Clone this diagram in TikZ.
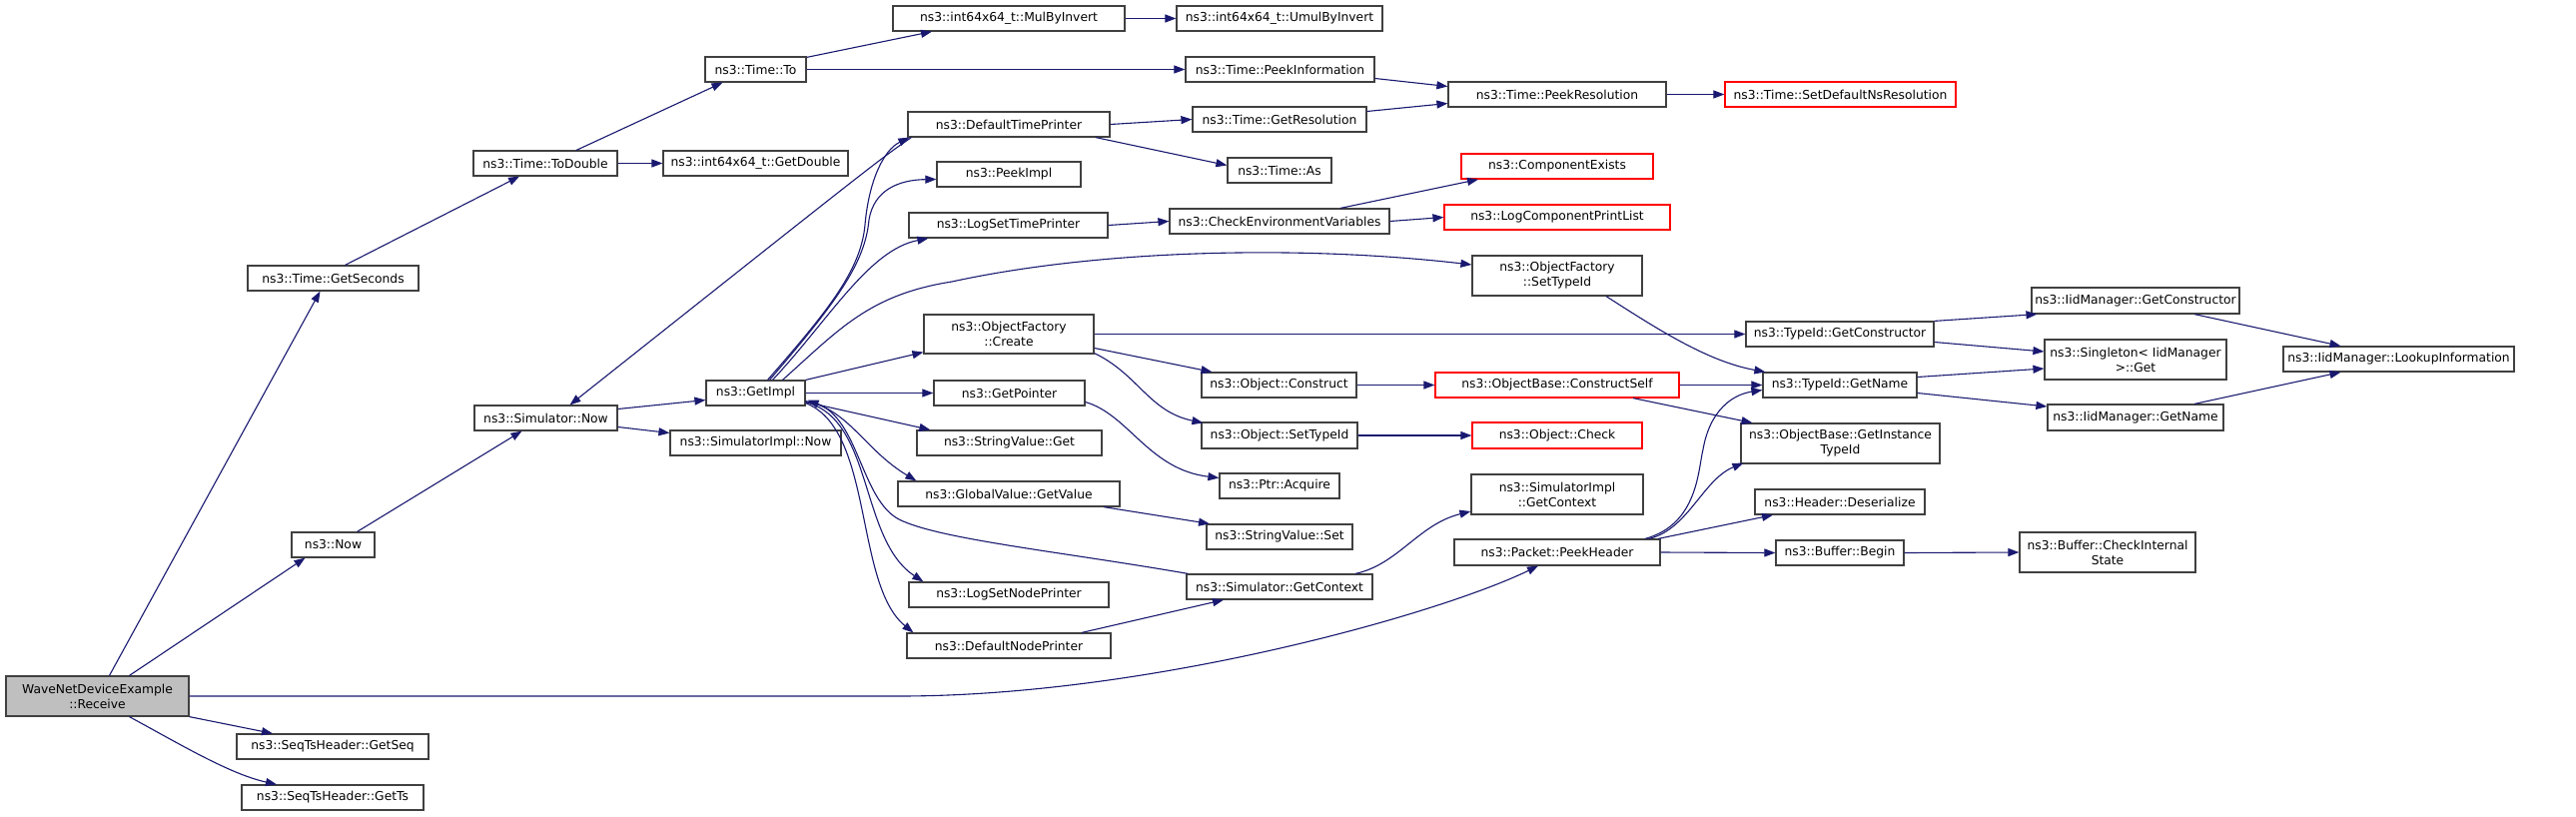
\documentclass[tikz,border=0pt]{standalone}
\usepackage{fontspec}
\setmainfont{DejaVu Sans}
\usetikzlibrary{arrows.meta,calc}
\definecolor{edgec}{HTML}{191970}
\definecolor{boxc}{HTML}{404040}
\definecolor{redc}{HTML}{FF0000}
\definecolor{grayfill}{HTML}{BFBFBF}
\tikzset{
  box/.style={draw=boxc,fill=white,line width=1.2pt,inner sep=0pt,align=center,
    font=\fontsize{12.3}{15}\selectfont},
  redbox/.style={draw=redc},
  rootbox/.style={fill=grayfill},
  e/.style={draw=edgec,line width=1.1pt,-{Triangle[length=11pt,width=8pt]}}
}
\newcommand{\mynode}[7][]{%
  \node[box,#1,minimum width={#5-#3},minimum height={#6-#4}] (#2) at ({(#3+#5)/2},{(#4+#6)/2}) {#7};}
\begin{document}
\begin{tikzpicture}[x=1pt,y=-1pt]
\useasboundingbox[fill=white] (0,0) rectangle (2579,817);
% nodes
\mynode[rootbox]{recv}{6}{677}{189}{717}{WaveNetDeviceExample\\::Receive}
\mynode{gsec}{248}{266}{419}{291}{ns3::Time::GetSeconds}
\mynode{now}{292}{533}{375}{558}{ns3::Now}
\mynode{gseq}{237}{735}{429}{760}{ns3::SeqTsHeader::GetSeq}
\mynode{gts}{242}{786}{424}{811}{ns3::SeqTsHeader::GetTs}
\mynode{todbl}{474}{151}{618}{176}{ns3::Time::ToDouble}
\mynode{simnow}{475}{406}{618}{431}{ns3::Simulator::Now}
\mynode{getdbl}{664}{151}{849}{176}{ns3::int64x64\_t::GetDouble}
\mynode{to}{706}{57}{807}{82}{ns3::Time::To}
\mynode{getimpl}{707}{381}{806}{406}{ns3::GetImpl}
\mynode{simimplnow}{671}{431}{842}{456}{ns3::SimulatorImpl::Now}
\mynode{mul}{894}{6}{1126}{31}{ns3::int64x64\_t::MulByInvert}
\mynode{dtp}{909}{112}{1111}{137}{ns3::DefaultTimePrinter}
\mynode{peekimpl}{938}{162}{1082}{187}{ns3::PeekImpl}
\mynode{lstp}{910}{213}{1109}{238}{ns3::LogSetTimePrinter}
\mynode{ofc}{925}{315}{1095}{354}{ns3::ObjectFactory\\::Create}
\mynode{getptr}{935}{381}{1086}{406}{ns3::GetPointer}
\mynode{svget}{918}{431}{1103}{456}{ns3::StringValue::Get}
\mynode{gvget}{899}{482}{1121}{507}{ns3::GlobalValue::GetValue}
\mynode{lsnp}{910}{583}{1110}{608}{ns3::LogSetNodePrinter}
\mynode{dnp}{908}{634}{1112}{659}{ns3::DefaultNodePrinter}
\mynode{umul}{1178}{6}{1384}{31}{ns3::int64x64\_t::UmulByInvert}
\mynode{peekinfo}{1187}{57}{1376}{82}{ns3::Time::PeekInformation}
\mynode{getres}{1194}{107}{1368}{132}{ns3::Time::GetResolution}
\mynode{as}{1229}{158}{1333}{183}{ns3::Time::As}
\mynode{cev}{1171}{209}{1391}{234}{ns3::CheckEnvironmentVariables}
\mynode{oconstr}{1203}{373}{1358}{398}{ns3::Object::Construct}
\mynode{osettid}{1203}{423}{1359}{449}{ns3::Object::SetTypeId}
\mynode{acquire}{1221}{474}{1341}{499}{ns3::Ptr::Acquire}
\mynode{svset}{1208}{525}{1354}{550}{ns3::StringValue::Set}
\mynode{simctx}{1188}{575}{1374}{600}{ns3::Simulator::GetContext}
\mynode{peekres}{1450}{82}{1668}{107}{ns3::Time::PeekResolution}
\mynode[redbox]{compex}{1463}{154}{1655}{179}{ns3::ComponentExists}
\mynode[redbox]{lcpl}{1446}{205}{1672}{230}{ns3::LogComponentPrintList}
\mynode{ofsettid}{1474}{256}{1644}{296}{ns3::ObjectFactory\\::SetTypeId}
\mynode[redbox]{cself}{1437}{373}{1681}{398}{ns3::ObjectBase::ConstructSelf}
\mynode[redbox]{ocheck}{1474}{423}{1644}{449}{ns3::Object::Check}
\mynode{simimplctx}{1473}{475}{1645}{515}{ns3::SimulatorImpl\\::GetContext}
\mynode{peekhdr}{1456}{540}{1662}{566}{ns3::Packet::PeekHeader}
\mynode[redbox]{setdef}{1727}{82}{1958}{107}{ns3::Time::SetDefaultNsResolution}
\mynode{tgetctor}{1748}{322}{1936}{347}{ns3::TypeId::GetConstructor}
\mynode{tgetname}{1765}{373}{1919}{398}{ns3::TypeId::GetName}
\mynode{ginst}{1743}{424}{1942}{464}{ns3::ObjectBase::GetInstance\\TypeId}
\mynode{hdes}{1757}{490}{1927}{515}{ns3::Header::Deserialize}
\mynode{bbegin}{1778}{541}{1906}{566}{ns3::Buffer::Begin}
\mynode{bcheck}{2022}{533}{2198}{573}{ns3::Buffer::CheckInternal\\State}
\mynode{iidctor}{2034}{288}{2242}{314}{ns3::IidManager::GetConstructor}
\mynode{singl}{2047}{340}{2229}{380}{ns3::Singleton< IidManager\\>::Get}
\mynode{iidname}{2050}{405}{2226}{431}{ns3::IidManager::GetName}
\mynode{lookup}{2286}{347}{2517}{372}{ns3::IidManager::LookupInformation}
% edges
\draw[e] ($(recv.north)+(12,0)$) -- ($(gsec.south)+(-13,0)$);
\draw[e] ($(recv.north)+(32,0)$) -- ($(now.south)+(-28,0)$);
\draw[e] (recv.east) -- (900,697) .. controls (1150,697) and (1440,615) .. ($(peekhdr.south)+(-19,0)$);
\draw[e] (recv.south east) -- ($(gseq.north)+(-60,0)$);
\draw[e] ($(recv.south)+(32,0)$) .. controls (180,745) and (230,775) .. ($(gts.north)+(-56,0)$);
\draw[e] ($(gsec.north)+(12,0)$) -- ($(todbl.south)+(-26,0)$);
\draw[e] ($(todbl.north)+(31,0)$) -- ($(to.south)+(-33,0)$);
\draw[e] (todbl.east) -- (getdbl.west);
\draw[e] ($(to.north east)+(0,1)$) -- ($(mul.south)+(-77,0)$);
\draw[e] (mul.east) -- (umul.west);
\draw[e] (to.east) -- (peekinfo.west);
\draw[e] ($(peekinfo.east)+(0,9)$) -- ($(peekres.west)+(0,-8)$);
\draw[e] ($(getres.east)+(0,-8)$) -- ($(peekres.west)+(0,9)$);
\draw[e] (peekres.east) -- (setdef.west);
\draw[e] (dtp.east) -- (getres.west);
\draw[e] ($(dtp.south)+(87,0)$) -- ($(as.west)+(0,-5)$);
\draw[e] ($(dtp.south west)+(4,0)$) .. controls (880,160) .. ($(simnow.north)+(24,0)$);
\draw[e] ($(getimpl.north)+(12,0)$) .. controls (830,310) and (862,270) .. (866,225) .. controls (870,180) and (885,150) .. ($(dtp.south west)+(2,0)$);
\draw[e] ($(getimpl.north)+(14,0)$) .. controls (835,305) and (866,265) .. (870,220) .. controls (875,190) and (900,180) .. ($(peekimpl.west)+(0,5)$);
\draw[e] ($(getimpl.north)+(17,0)$) .. controls (830,320) and (870,250) .. ($(lstp.south west)+(20,0)$);
\draw[e] ($(getimpl.north)+(27,0)$) .. controls (840,330) and (870,295) .. (953,282) .. controls (1100,250) and (1300,245) .. ($(ofsettid.west)+(0,-11)$);
\draw[e] (getimpl.north east) -- ($(ofc.south west)+(0,-2)$);
\draw[e] (getimpl.east) -- (getptr.west);
\draw[e] ($(getimpl.east)+(0,9)$) -- ($(svget.north west)+(14,0)$);
\draw[e] ($(getimpl.south east)+(0,-5)$) .. controls (850,410) and (865,450) .. ($(gvget.north west)+(19,0)$);
\draw[e] ($(getimpl.south east)+(0,-4)$) .. controls (875,420) and (860,540) .. ($(lsnp.north west)+(15,0)$);
\draw[e] ($(getimpl.south east)+(0,-3)$) .. controls (875,430) and (855,585) .. ($(dnp.north west)+(7,0)$);
\draw[e] ($(simctx.north west)+(2,0)$) .. controls (1060,552) and (940,540) .. (900,520) .. controls (862,500) and (860,420) .. ($(getimpl.south east)+(2,-6)$);
\draw[e] ($(simnow.east)+(0,-9)$) -- ($(getimpl.west)+(0,7)$);
\draw[e] ($(simnow.east)+(0,9)$) -- ($(simimplnow.west)+(0,-10)$);
\draw[e] ($(now.north)+(24,0)$) -- ($(simnow.south)+(-24,0)$);
\draw[e] (lstp.east) -- (cev.west);
\draw[e] ($(cev.north)+(61,0)$) -- ($(compex.south)+(-79,0)$);
\draw[e] (cev.east) -- (lcpl.west);
\draw[e] ($(ofsettid.south)+(49,0)$) .. controls (1660,330) and (1710,362) .. ($(tgetname.north west)+(3,0)$);
\draw[e] (ofc.east) -- (tgetctor.west);
\draw[e] ($(ofc.east)+(0,14)$) -- ($(oconstr.north)+(-67,0)$);
\draw[e] ($(ofc.south east)+(0,-1)$) .. controls (1140,375) and (1150,412) .. ($(osettid.north west)+(2,1)$);
\draw[e] ($(getptr.east)+(0,9)$) .. controls (1130,415) and (1150,470) .. ($(acquire.west)+(0,-8)$);
\draw[e] (oconstr.east) -- (cself.west);
\draw[e] (osettid.east) -- (ocheck.west);
\draw[e] (cself.east) -- (tgetname.west);
\draw[e] ($(cself.south)+(76,0)$) -- ($(ginst.north)+(-88,0)$);
\draw[e] ($(gvget.south)+(95,0)$) -- ($(svset.north)+(-70,0)$);
\draw[e] ($(dnp.north)+(73,0)$) -- ($(simctx.south)+(-56,0)$);
\draw[e] ($(simctx.north)+(76,0)$) .. controls (1400,565) and (1420,525) .. ($(simimplctx.west)+(0,17)$);
\draw[e] ($(peekhdr.north)+(88,0)$) .. controls (1700,525) and (1700,470) .. (1705,450) .. controls (1712,410) and (1735,395) .. ($(tgetname.west)+(0,5)$);
\draw[e] ($(peekhdr.north)+(92,0)$) .. controls (1690,530) and (1705,480) .. ($(ginst.south west)+(3,-1)$);
\draw[e] ($(peekhdr.north)+(101,0)$) -- ($(hdes.south)+(-67,0)$);
\draw[e] (peekhdr.east) -- (bbegin.west);
\draw[e] (bbegin.east) -- (bcheck.west);
\draw[e] (tgetctor.north east) -- ($(iidctor.south west)+(6,0)$);
\draw[e] ($(tgetctor.east)+(0,8)$) -- ($(singl.west)+(0,-8)$);
\draw[e] ($(tgetname.east)+(0,-8)$) -- ($(singl.west)+(0,9)$);
\draw[e] ($(tgetname.east)+(0,8)$) -- ($(iidname.west)+(0,-11)$);
\draw[e] ($(iidctor.south)+(59,0)$) -- ($(lookup.north)+(-58,0)$);
\draw[e] ($(iidname.north)+(59,0)$) -- ($(lookup.south)+(-58,0)$);
\end{tikzpicture}
\end{document}
